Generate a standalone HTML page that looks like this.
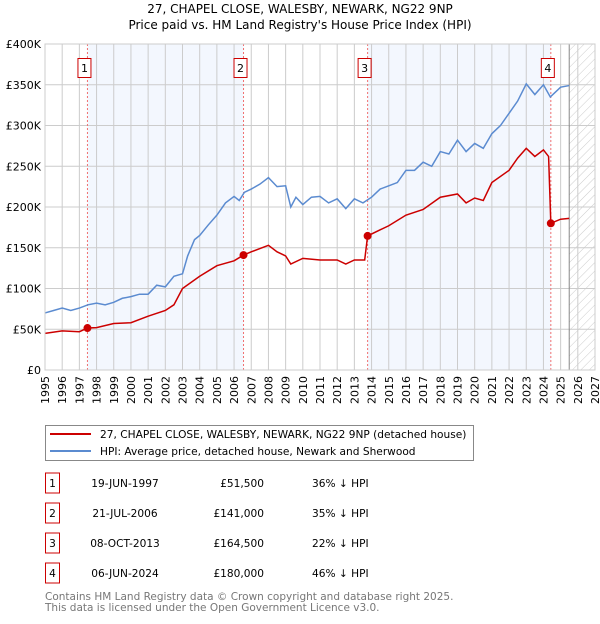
<!DOCTYPE html>
<html><head><meta charset="utf-8"><style>
body{margin:0;background:#fff;font-family:"DejaVu Sans","Liberation Sans",sans-serif;}
svg text{font-family:"DejaVu Sans","Liberation Sans",sans-serif;}
</style></head><body>
<svg id="chart" width="600" height="620" xmlns="http://www.w3.org/2000/svg">
<defs><pattern id="hatch" width="6" height="6" patternUnits="userSpaceOnUse" patternTransform="rotate(45)"><line x1="0" y1="0" x2="0" y2="6" stroke="#ccc" stroke-width="1"/></pattern></defs>
<text x="300" y="13" text-anchor="middle" font-size="12">27, CHAPEL CLOSE, WALESBY, NEWARK, NG22 9NP</text>
<text x="300" y="29" text-anchor="middle" font-size="12">Price paid vs. HM Land Registry's House Price Index (HPI)</text>
<g id="plot"></g>
<g>
<rect x="45.5" y="425.5" width="428" height="35" fill="#fff" stroke="#888"/>
<line x1="50" y1="434" x2="91" y2="434" stroke="#cc0000" stroke-width="2"/>
<text x="100" y="438" font-size="10.6">27, CHAPEL CLOSE, WALESBY, NEWARK, NG22 9NP (detached house)</text>
<line x1="50" y1="451" x2="91" y2="451" stroke="#5b8bd0" stroke-width="2"/>
<text x="100" y="455" font-size="10.6">HPI: Average price, detached house, Newark and Sherwood</text>
</g>
<g id="table" font-size="10.6"></g>
<text x="45" y="600" font-size="10.5" fill="#777">Contains HM Land Registry data © Crown copyright and database right 2025.</text>
<text x="45" y="611" font-size="10.5" fill="#777">This data is licensed under the Open Government Licence v3.0.</text>
</svg>
<script>
const hpiYears=[1995,1995.5,1996,1996.5,1997,1997.5,1998,1998.5,1999,1999.5,2000,2000.5,2001,2001.5,2002,2002.5,2003,2003.3,2003.7,2004,2004.5,2005,2005.5,2006,2006.3,2006.6,2007,2007.5,2008,2008.5,2009,2009.3,2009.6,2010,2010.5,2011,2011.5,2012,2012.5,2013,2013.5,2014,2014.5,2015,2015.5,2016,2016.5,2017,2017.5,2018,2018.5,2019,2019.5,2020,2020.5,2021,2021.5,2022,2022.5,2023,2023.5,2024,2024.4,2025,2025.5];
const hpiValues=[70,73,76,73,76,80,82,80,83,88,90,93,93,104,102,115,118,140,160,165,178,190,205,213,208,218,222,228,236,225,226,200,212,203,212,213,205,210,198,210,205,212,222,226,230,245,245,255,250,268,265,282,268,278,272,290,300,315,330,351,338,350,335,347,349];
const ppYears=[1995,1996,1997,1997.47,1998,1999,2000,2001,2002,2002.5,2003,2004,2005,2006,2006.55,2007,2008,2008.5,2009,2009.3,2010,2011,2012,2012.5,2013,2013.6,2013.77,2014.5,2015,2016,2017,2018,2019,2019.5,2020,2020.5,2021,2022,2022.5,2023,2023.5,2024,2024.3,2024.43,2025,2025.5];
const ppValues=[45,48,47,51.5,52,57,58,66,73,80,100,115,128,134,141,145,153,145,140,130,137,135,135,130,135,135,164.5,172,177,190,197,212,216,205,211,208,230,245,260,272,262,270,262,180,185,186];
const saleYears=[1997.47,2006.55,2013.77,2024.43];
const saleValues=[51.5,141,164.5,180];
const saleLabels=["1","2","3","4"];
const saleDates=["19-JUN-1997","21-JUL-2006","08-OCT-2013","06-JUN-2024"];
const salePrices=["£51,500","£141,000","£164,500","£180,000"];
const saleDiffs=["36% ↓ HPI","35% ↓ HPI","22% ↓ HPI","46% ↓ HPI"];
const yTicks=[0,50,100,150,200,250,300,350,400];
const yTickLabels=["£0","£50K","£100K","£150K","£200K","£250K","£300K","£350K","£400K"];
const xTicks=[1995,1996,1997,1998,1999,2000,2001,2002,2003,2004,2005,2006,2007,2008,2009,2010,2011,2012,2013,2014,2015,2016,2017,2018,2019,2020,2021,2022,2023,2024,2025,2026,2027];
const X0=45,X1=595,Y0=370,Y1=44;
const xs=y=>X0+(y-1995)*(X1-X0)/32;
const ys=v=>Y0-v*(Y0-Y1)/400;
const NS="http://www.w3.org/2000/svg";
const plot=document.getElementById('plot');
function mk(tag,attrs,parent){const e=document.createElementNS(NS,tag);for(const k in attrs)e.setAttribute(k,attrs[k]);(parent||plot).appendChild(e);return e;}
let e;
e=mk('rect',{x:X0,y:Y1,width:X1-X0,height:Y0-Y1,fill:'#fff'});


for(let i=0;i<saleYears.length;i+=2){
 e=mk('rect',{x:xs(saleYears[i]),y:Y1,width:xs(saleYears[i+1])-xs(saleYears[i]),height:Y0-Y1,fill:'#f3f7fe'});
 
 
}
e=mk('rect',{x:xs(2025.5),y:Y1,width:X1-xs(2025.5),height:Y0-Y1,fill:'url(#hatch)'});


xTicks.forEach(t=>{
 e=mk('line',{x1:xs(t),x2:xs(t),y1:Y1,y2:Y0,stroke:'#ccc'});
 
 
 e=mk('text',{x:0,y:0,'font-size':11,'text-anchor':'end',transform:`translate(${xs(t)+4},${Y0+6}) rotate(-90)`});
 e.textContent=t;
 
 
});
yTicks.forEach((t,i)=>{
 e=mk('line',{x1:X0,x2:X1,y1:ys(t),y2:ys(t),stroke:'#ccc'});
 
 
 e=mk('text',{x:X0-4,y:ys(t)+4,'font-size':11,'text-anchor':'end'});
 e.textContent=yTickLabels[i];
 
 
});
e=mk('line',{x1:xs(2025.5),x2:xs(2025.5),y1:Y1,y2:Y0,stroke:'#888'});


saleYears.forEach((y,i)=>{
 e=mk('line',{x1:xs(y),x2:xs(y),y1:Y1,y2:Y0,stroke:'#f07070','stroke-dasharray':'2,2'});
 
 
 const g=mk('g',{});
 
 
 mk('rect',{x:xs(y)-9.5,y:58.5,width:13,height:19,fill:'#fff',stroke:'#cc0000'},g);
 const t=mk('text',{x:xs(y)-3,y:72,'font-size':11,'text-anchor':'middle'},g);
 t.textContent=saleLabels[i];
});
e=mk('polyline',{points:hpiYears.map((y,i)=>xs(y)+','+ys(hpiValues[i])).join(' '),fill:'none',stroke:'#5b8bd0','stroke-width':1.5});


e=mk('polyline',{points:ppYears.map((y,i)=>xs(y)+','+ys(ppValues[i])).join(' '),fill:'none',stroke:'#cc0000','stroke-width':1.5});


saleYears.forEach((y,i)=>{
 e=mk('circle',{cx:xs(y),cy:ys(saleValues[i]),r:4,fill:'#cc0000'});
 
 
});
e=mk('rect',{x:X0,y:Y1,width:X1-X0,height:Y0-Y1,fill:'none',stroke:'#ccc'});


const tbl=document.getElementById('table');
saleYears.forEach((y,i)=>{
 const cy=483+i*30;
 const g=mk('g',{},tbl);
 
 
 mk('rect',{x:45.5,y:cy-10,width:14,height:20,fill:'#fff',stroke:'#cc0000'},g);
 let t=mk('text',{x:52.5,y:cy+4,'text-anchor':'middle'},g);t.textContent=saleLabels[i];
 t=mk('text',{x:125,y:cy+4,'text-anchor':'middle'},g);t.textContent=saleDates[i];
 t=mk('text',{x:264,y:cy+4,'text-anchor':'end'},g);t.textContent=salePrices[i];
 t=mk('text',{x:312,y:cy+4},g);t.textContent=saleDiffs[i];
});
</script>
</body></html>
